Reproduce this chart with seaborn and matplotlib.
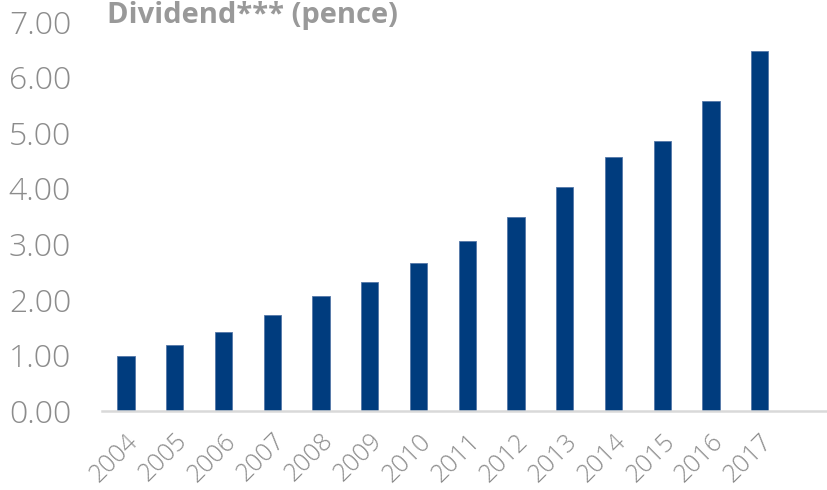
import matplotlib
matplotlib.use("Agg")
import matplotlib.pyplot as plt
import seaborn as sns
import pandas as pd

years = ["2004", "2005", "2006", "2007", "2008", "2009", "2010",
         "2011", "2012", "2013", "2014", "2015", "2016", "2017"]
dividend = [0.98, 1.18, 1.42, 1.72, 2.06, 2.31, 2.66,
            3.06, 3.48, 4.02, 4.56, 4.85, 5.57, 6.47]
y_ticks = [0, 1, 2, 3, 4, 5, 6, 7]
title = "Dividend*** (pence)"

sns.set_theme(style="white")
plt.rcParams["font.family"] = ["Open Sans", "DejaVu Sans"]

df = pd.DataFrame({"year": years, "dividend": dividend})

fig = plt.figure(figsize=(8.28, 4.90), dpi=100)
ax = fig.add_axes([101.6 / 828, 79.3 / 490, 726.4 / 828, 389.2 / 490])

sns.barplot(data=df, x="year", y="dividend", color="#003C7E", saturation=1,
            width=0.355, ax=ax, edgecolor="#5577A8", linewidth=0.6)

ax.set_xlim(-0.5, 14.4)
ax.set_ylim(0, 7)
ax.set_yticks(y_ticks)
ax.set_yticklabels([f"{v:.2f}" for v in y_ticks])
ax.set_xlabel("")
ax.set_ylabel("")

for s in ["top", "right", "left"]:
    ax.spines[s].set_visible(False)
ax.spines["bottom"].set_color("#D9D9D9")
ax.spines["bottom"].set_linewidth(1.8)

ax.tick_params(axis="y", length=0, pad=22, labelsize=23, labelcolor="#8C8C8C")
ax.tick_params(axis="x", length=0, pad=13, labelsize=18, labelcolor="#8C8C8C")
for lbl in ax.get_yticklabels():
    lbl.set_fontweight("light")
for lbl in ax.get_xticklabels():
    lbl.set_rotation(45)
    lbl.set_ha("right")
    lbl.set_va("top")
    lbl.set_rotation_mode("anchor")
    lbl.set_fontweight("light")

fig.text(107 / 828, 1 - 23.3 / 490, title, fontsize=21, fontweight="bold",
         color="#999999", va="baseline", ha="left")

fig.savefig("out.png", dpi=100)
